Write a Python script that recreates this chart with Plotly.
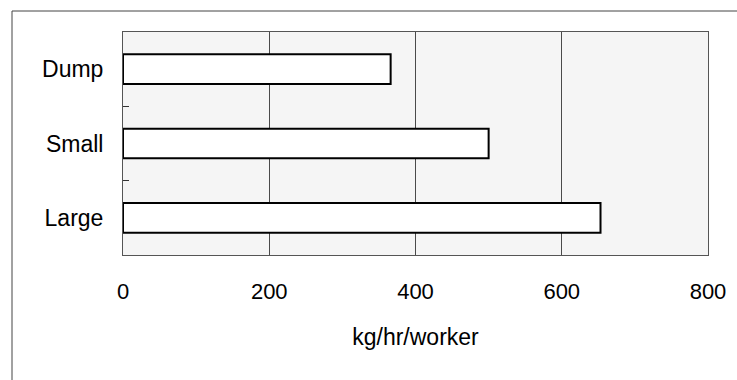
import plotly.graph_objects as go

# Throughput by site type
categories = ["Dump", "Small", "Large"]
rates = [366, 500, 653]
x_ticks = [0, 200, 400, 600, 800]
x_title = "kg/hr/worker"

W, H = 737, 380
L, R, T, B = 123, 29, 32, 125
pw, ph = W - L - R, H - T - B

fig = go.Figure(
    go.Bar(
        y=categories,
        x=rates,
        orientation="h",
        width=0.4,
        marker=dict(color="white", line=dict(color="black", width=2)),
        hoverinfo="x+y",
    )
)

family = "Liberation Sans, Arial, sans-serif"
num_font = dict(family=family, size=22, color="black")
txt_font = dict(family=family, size=23, color="black")

fig.update_layout(
    width=W,
    height=H,
    margin=dict(l=L, r=R, t=T, b=B),
    paper_bgcolor="white",
    plot_bgcolor="#f5f5f5",
    showlegend=False,
    font=txt_font,
    xaxis=dict(
        range=[0, 800],
        tickvals=x_ticks,
        ticktext=[str(v) for v in x_ticks],
        showgrid=True,
        gridcolor="#4a4a4a",
        gridwidth=1,
        zeroline=False,
        showline=True,
        linecolor="#555555",
        linewidth=1,
        mirror=True,
        ticks="",
        ticklabelstandoff=17,
        title=dict(text=x_title, standoff=25, font=txt_font),
        tickfont=num_font,
    ),
    yaxis=dict(
        categoryorder="array",
        categoryarray=categories,
        autorange="reversed",
        tickson="boundaries",
        ticks="inside",
        ticklen=6,
        tickcolor="#333333",
        showgrid=False,
        showline=True,
        linecolor="#555555",
        linewidth=1,
        mirror=True,
        ticklabelstandoff=14,
        tickfont=txt_font,
    ),
)

# Outer frame around the chart (left and top edges visible)
fx = (12 - L) / pw
fy = 1 + (T - 11) / ph
fig.add_shape(type="line", xref="paper", yref="paper",
              x0=fx, x1=fx, y0=fy, y1=-(B + 5) / ph,
              line=dict(color="#444444", width=1))
fig.add_shape(type="line", xref="paper", yref="paper",
              x0=fx, x1=1 + (R + 5) / pw, y0=fy, y1=fy,
              line=dict(color="#444444", width=1))

fig.write_html("out.html")
